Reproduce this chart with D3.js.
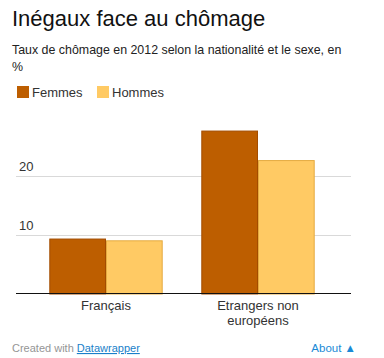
<!DOCTYPE html>
<html>
<head>
<meta charset="utf-8">
<script src="https://cdn.jsdelivr.net/npm/d3@7"></script>
<style>
html,body{margin:0;padding:0;background:#fff;}
svg{display:block;font-family:"Liberation Sans",Arial,sans-serif;}
</style>
</head>
<body>
<svg id="chart" width="384" height="358"></svg>
<script>
const categories = [["Français"], ["Etrangers non", "européens"]];
const categoryKeys = ["Français", "Etrangers non européens"];
const series = ["Femmes", "Hommes"];
const femmes = [9.4, 27.7];
const hommes = [9.1, 22.7];
const ticks = [10, 20];
const colors = {Femmes: "#bd5e00", Hommes: "#ffca64"};
const strokes = {Femmes: "#a34c00", Hommes: "#e5aa3f"};

const svg = d3.select("#chart");

// Title & subtitle
svg.append("text").attr("x", 12).attr("y", 26).attr("font-size", 22).attr("fill", "#111")
  .text("Inégaux face au chômage");
const sub = svg.append("text").attr("x", 12).attr("y", 54).attr("font-size", 12.4).attr("fill", "#222");
sub.append("tspan").attr("x", 12).attr("dy", 0).text("Taux de chômage en 2012 selon la nationalité et le sexe, en");
sub.append("tspan").attr("x", 12).attr("dy", 16.5).text("%");

// Legend
const legendX = [17, 97];
series.forEach((s, i) => {
  const g = svg.append("g").attr("transform", `translate(${legendX[i]},86)`);
  g.append("rect").attr("width", 12).attr("height", 12).attr("fill", colors[s]);
  g.append("text").attr("x", 15).attr("y", 11).attr("font-size", 13).attr("fill", "#333").text(s);
});

// Scales
const y = d3.scaleLinear().domain([0, 10]).range([294, 235]);
const x0 = d3.scaleBand().domain(categoryKeys).range([30, 334]).paddingInner(0.254).paddingOuter(0.127);
const x1 = d3.scaleBand().domain(series).range([0, x0.bandwidth()]);

const plotLeft = 16, plotRight = 351;

// Gridlines and tick labels
const yAxis = d3.axisLeft(y).tickValues(ticks).tickSize(-(plotRight - plotLeft)).tickFormat(d3.format("d"));
const ga = svg.append("g").attr("transform", `translate(${plotLeft},0)`).call(yAxis);
ga.select(".domain").remove();
ga.selectAll(".tick line").attr("stroke", "#d9d9d9").attr("stroke-width", 1);
ga.selectAll(".tick text").attr("x", 3).attr("dy", -6).attr("text-anchor", "start")
  .attr("font-size", 13).attr("font-family", "Liberation Sans, Arial, sans-serif").attr("fill", "#333");

// Bars
const data = categoryKeys.map((c, i) => ({cat: c, Femmes: femmes[i], Hommes: hommes[i]}));
const groups = svg.append("g").selectAll("g").data(data).join("g")
  .attr("transform", d => `translate(${x0(d.cat)},0)`);
groups.selectAll("rect").data(d => series.map(s => ({s, v: d[s]}))).join("rect")
  .attr("x", d => x1(d.s) + 0.5)
  .attr("y", d => y(d.v) + 0.5)
  .attr("width", x1.bandwidth() - 1)
  .attr("height", d => y(0) - y(d.v) - 0.5)
  .attr("fill", d => colors[d.s])
  .attr("stroke", d => strokes[d.s])
  .attr("stroke-width", 1);

// Baseline
svg.append("line").attr("x1", plotLeft).attr("x2", plotRight)
  .attr("y1", y(0) - 0.5).attr("y2", y(0) - 0.5).attr("stroke", "#111").attr("stroke-width", 1);

// Category labels
categoryKeys.forEach((c, i) => {
  const t = svg.append("text").attr("x", x0(c) + x0.bandwidth() / 2).attr("y", 310)
    .attr("text-anchor", "middle").attr("font-size", 13).attr("fill", "#333");
  categories[i].forEach((line, j) => {
    t.append("tspan").attr("x", x0(c) + x0.bandwidth() / 2).attr("dy", j === 0 ? 0 : 15).text(line);
  });
});

// Footer
const f = svg.append("text").attr("x", 12).attr("y", 352).attr("font-size", 11);
f.append("tspan").attr("fill", "#959595").text("Created with ");
f.append("tspan").attr("fill", "#1a7fc9").attr("text-decoration", "underline").text("Datawrapper");
svg.append("text").attr("x", 356).attr("y", 352).attr("text-anchor", "end").attr("font-size", 11.5)
  .attr("fill", "#1a8ad6").text("About ▲");
</script>
</body>
</html>
